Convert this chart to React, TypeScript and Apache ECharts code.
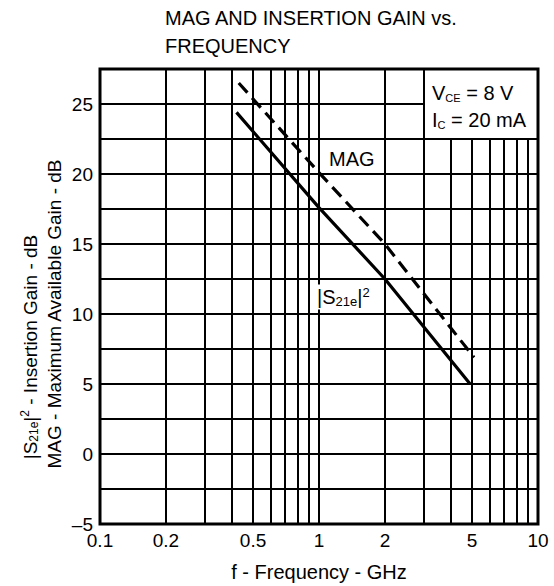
import React, { useEffect, useRef } from "react";
import * as echarts from "echarts";

const FONT = "'Liberation Sans', Arial, Helvetica, sans-serif";

// frequency tick labels (GHz)
const freqLabels = [0.1, 0.2, 0.5, 1, 2, 5, 10];
// vertical grid positions (GHz)
const freqGrid = [0.1, 0.2, 0.3, 0.4, 0.5, 0.6, 0.7, 0.8, 0.9, 1, 2, 3, 4, 5, 6, 7, 8, 9, 10];
// horizontal grid positions (dB)
const gainGrid = [-2.5, 0, 2.5, 5, 7.5, 10, 12.5, 15, 17.5, 20, 22.5, 25];

// MAG curve (dashed)
const magFreq = [0.43, 1, 2, 5.1];
const magGain = [26.5, 20.1, 15.0, 6.9];
// |S21e|^2 curve (solid)
const s21Freq = [0.42, 1, 2, 4.9];
const s21Gain = [24.4, 17.6, 12.5, 5.0];

const Y_MIN = -5;
const Y_MAX = 27.5;
const X_MIN = 0.1;
const X_MAX = 10;
const BOX_FREQ = 3; // annotation box left edge
const BOX_GAIN = 22.5; // annotation box bottom edge

export default function App() {
  const ref = useRef<HTMLDivElement>(null);

  useEffect(() => {
    if (!ref.current) return;
    const chart = echarts.init(ref.current, undefined, { renderer: "svg" });

    const gridLineStyle = { color: "#000", width: 2, type: "solid" as const };

    const vLines = freqGrid.map((f) => {
      const labeled = freqLabels.includes(f);
      return [
        {
          coord: [f, Y_MIN],
          label: labeled
            ? {
                show: true,
                position: "start",
                formatter: String(f),
                color: "#000",
                fontSize: 19,
                fontFamily: FONT,
                distance: 7,
              }
            : { show: false },
        },
        { coord: [f, f > BOX_FREQ ? BOX_GAIN : Y_MAX] },
      ];
    });

    const hLines = gainGrid.map((g) => [
      { coord: [X_MIN, g] },
      { coord: [g > BOX_GAIN ? BOX_FREQ : X_MAX, g] },
    ]);

    const option: any = {
      animation: false,
      textStyle: { fontFamily: FONT },
      grid: {
        left: 100,
        right: 16,
        top: 69,
        bottom: 62,
        show: true,
        borderColor: "#000",
        borderWidth: 3,
        backgroundColor: "#fff",
      },
      xAxis: {
        type: "log",
        logBase: 10,
        min: X_MIN,
        max: X_MAX,
        axisLine: { show: false },
        axisTick: { show: false },
        axisLabel: { show: false },
        splitLine: { show: false },
      },
      yAxis: {
        type: "value",
        min: Y_MIN,
        max: Y_MAX,
        interval: 2.5,
        axisLine: { show: false },
        axisTick: { show: false },
        splitLine: { show: false },
        axisLabel: {
          color: "#000",
          fontSize: 19,
          fontFamily: FONT,
          margin: 7,
          formatter: (v: number) => {
            if (Math.abs(v % 5) > 1e-9) return "";
            return v < 0 ? "\u2013" + Math.abs(v) : String(v);
          },
        },
      },
      series: [
        {
          type: "line",
          name: "grid",
          z: 1,
          silent: true,
          symbol: "none",
          data: [[X_MIN, Y_MIN]],
          lineStyle: { width: 0 },
          markLine: {
            silent: true,
            symbol: ["none", "none"],
            lineStyle: gridLineStyle,
            label: { show: false },
            data: [...vLines, ...hLines],
          },
        },
        {
          type: "line",
          name: "MAG",
          z: 5,
          symbol: "none",
          data: magFreq.map((f, i) => [f, magGain[i]]),
          lineStyle: { color: "#000", width: 3.2, type: [13, 7] },
        },
        {
          type: "line",
          name: "|S21e|2",
          z: 5,
          symbol: "none",
          data: s21Freq.map((f, i) => [f, s21Gain[i]]),
          lineStyle: { color: "#000", width: 3.2 },
        },
      ],
      graphic: [
        {
          type: "text",
          x: 165,
          y: 18,
          z: 10,
          style: {
            text: "MAG AND INSERTION GAIN vs.",
            fill: "#000",
            fontSize: 20,
            fontFamily: FONT,
            align: "left",
            verticalAlign: "middle",
          },
        },
        {
          type: "text",
          x: 165,
          y: 46,
          z: 10,
          style: {
            text: "FREQUENCY",
            fill: "#000",
            fontSize: 20,
            fontFamily: FONT,
            align: "left",
            verticalAlign: "middle",
          },
        },
        {
          type: "text",
          x: 319,
          y: 572,
          z: 10,
          style: {
            text: "f - Frequency - GHz",
            fill: "#000",
            fontSize: 20,
            fontFamily: FONT,
            align: "center",
            verticalAlign: "middle",
          },
        },
        {
          type: "text",
          x: 30,
          y: 347,
          rotation: Math.PI / 2,
          z: 10,
          style: {
            text: "{m||S}{s|21e}{m||}{p|2}{m| - Insertion Gain - dB}",
            fill: "#000",
            fontFamily: FONT,
            align: "center",
            verticalAlign: "middle",
            rich: {
              m: { fontSize: 19, fontFamily: FONT, fill: "#000", lineHeight: 22 },
              s: { fontSize: 12, fontFamily: FONT, fill: "#000", lineHeight: 22, verticalAlign: "bottom", padding: [0, 0, 1, 0] },
              p: { fontSize: 12, fontFamily: FONT, fill: "#000", lineHeight: 22, verticalAlign: "top" },
            },
          },
        },
        {
          type: "text",
          x: 54,
          y: 314,
          rotation: Math.PI / 2,
          z: 10,
          style: {
            text: "MAG - Maximum Available Gain - dB",
            fill: "#000",
            fontSize: 19,
            fontFamily: FONT,
            align: "center",
            verticalAlign: "middle",
          },
        },
        {
          type: "text",
          x: 329,
          y: 159,
          z: 10,
          style: {
            text: "MAG",
            fill: "#000",
            fontSize: 20,
            fontFamily: FONT,
            align: "left",
            verticalAlign: "middle",
          },
        },
        {
          type: "text",
          x: 317,
          y: 297,
          z: 10,
          style: {
            text: "{m||S}{s|21e}{m||}{p|2}",
            fill: "#000",
            fontFamily: FONT,
            align: "left",
            verticalAlign: "middle",
            backgroundColor: "#fff",
            padding: [1, 1, 1, 0],
            rich: {
              m: { fontSize: 20, fontFamily: FONT, fill: "#000", lineHeight: 23 },
              s: { fontSize: 13, fontFamily: FONT, fill: "#000", lineHeight: 23, verticalAlign: "bottom", padding: [0, 0, 1, 0] },
              p: { fontSize: 13, fontFamily: FONT, fill: "#000", lineHeight: 23, verticalAlign: "top" },
            },
          },
        },
        {
          type: "text",
          x: 432,
          y: 93,
          z: 10,
          style: {
            text: "{m|V}{s|CE}{m| = 8 V}",
            fill: "#000",
            fontFamily: FONT,
            align: "left",
            verticalAlign: "middle",
            rich: {
              m: { fontSize: 20, fontFamily: FONT, fill: "#000", lineHeight: 23 },
              s: { fontSize: 11, fontFamily: FONT, fill: "#000", lineHeight: 23, verticalAlign: "bottom", padding: [0, 0, 1, 0] },
            },
          },
        },
        {
          type: "text",
          x: 432,
          y: 120,
          z: 10,
          style: {
            text: "{m|I}{s|C}{m| = 20 mA}",
            fill: "#000",
            fontFamily: FONT,
            align: "left",
            verticalAlign: "middle",
            rich: {
              m: { fontSize: 20, fontFamily: FONT, fill: "#000", lineHeight: 23 },
              s: { fontSize: 11, fontFamily: FONT, fill: "#000", lineHeight: 23, verticalAlign: "bottom", padding: [0, 0, 1, 0] },
            },
          },
        },
      ],
    };

    chart.setOption(option);
    return () => chart.dispose();
  }, []);

  return (
    <div
      ref={ref}
      style={{ position: "fixed", left: 0, top: 0, width: 554, height: 586, background: "#fff" }}
    />
  );
}
